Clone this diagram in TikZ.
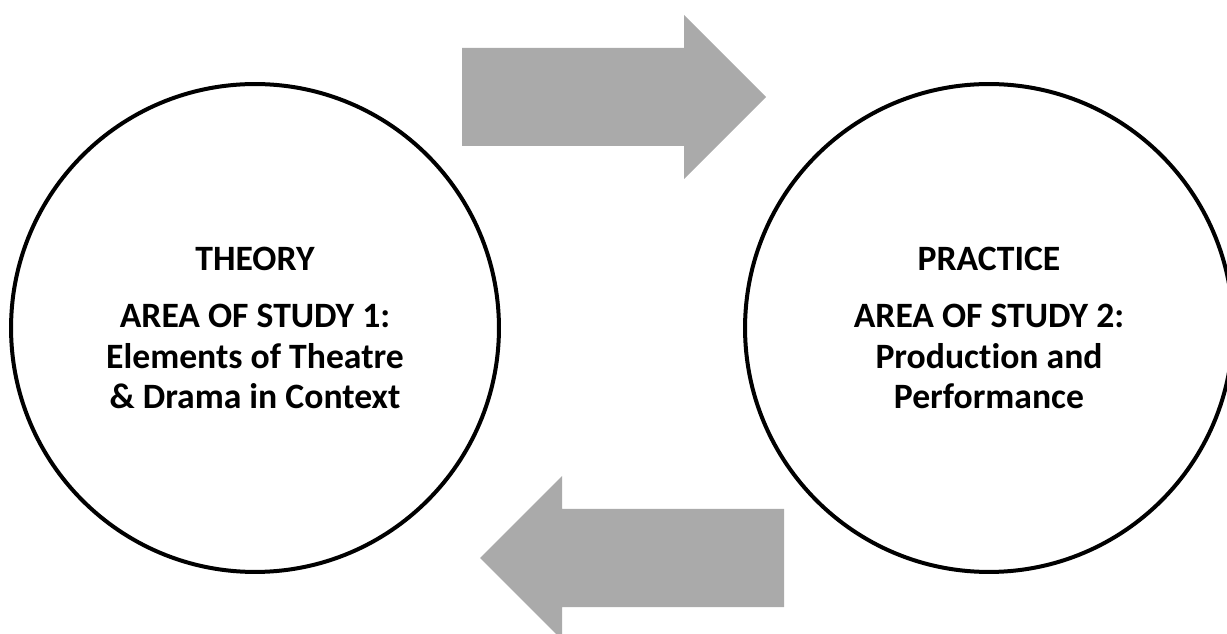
\documentclass[tikz,border=0pt]{standalone}
\usepackage{fontspec}
\setmainfont[Ligatures=NoCommon]{Carlito}
\definecolor{arrowgray}{HTML}{AAAAAA}
\tikzset{area/.style={circle, draw, line width=0.08cm, minimum size=9.76cm, inner sep=0pt, align=center, font=\bfseries\fontsize{20.3}{23.3}\selectfont}}

\begin{document}
\begin{tikzpicture}[x=0.02cm, y=-0.02cm]
\useasboundingbox (0,0) rectangle (1227,634);
\clip (0,0) rectangle (1227,634);
\node[area] (T) at (255,328) {THEORY\\[0.32cm] AREA OF STUDY 1:\\ Elements of Theatre\\ \& Drama in Context};
\node[area] (P) at (989,328) {PRACTICE\\[0.32cm] AREA OF STUDY 2:\\ Production and\\ Performance};
\coordinate (A) at (462,97);
\coordinate (B) at (784,558);
\fill[arrowgray] (A) ++(0,-49) -- ++(222,0) -- ++(0,-33) -- ++(82,82) -- ++(-82,82) -- ++(0,-33) -- ++(-222,0) -- cycle;
\fill[arrowgray] (B) ++(0,-49) -- ++(-222,0) -- ++(0,-33) -- ++(-82,82) -- ++(82,82) -- ++(0,-33) -- ++(222,0) -- cycle;
\end{tikzpicture}
\end{document}
